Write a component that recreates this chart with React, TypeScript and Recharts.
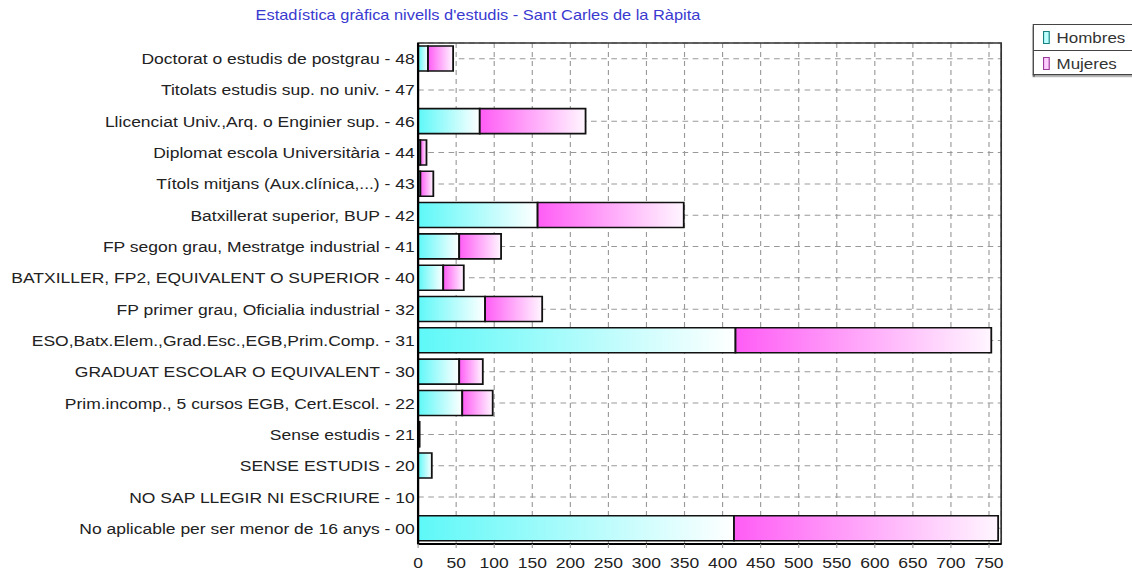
import React from "react";
import {
  BarChart,
  Bar,
  XAxis,
  YAxis,
  CartesianGrid,
  ReferenceArea,
} from "recharts";

const categories = [
  "Doctorat o estudis de postgrau - 48",
  "Titolats estudis sup. no univ. - 47",
  "Llicenciat Univ.,Arq. o Enginier sup. - 46",
  "Diplomat escola Universitària - 44",
  "Títols mitjans (Aux.clínica,...) - 43",
  "Batxillerat superior, BUP - 42",
  "FP segon grau, Mestratge industrial - 41",
  "BATXILLER, FP2, EQUIVALENT O SUPERIOR - 40",
  "FP primer grau, Oficialia industrial - 32",
  "ESO,Batx.Elem.,Grad.Esc.,EGB,Prim.Comp. - 31",
  "GRADUAT ESCOLAR O EQUIVALENT - 30",
  "Prim.incomp., 5 cursos EGB, Cert.Escol. - 22",
  "Sense estudis - 21",
  "SENSE ESTUDIS - 20",
  "NO SAP LLEGIR NI ESCRIURE - 10",
  "No aplicable per ser menor de 16 anys - 00",
];

const hombres = [13, 0, 81, 3, 3, 157, 54, 33, 88, 417, 54, 58, 1, 18, 0, 415];
const mujeres = [33, 0, 139, 8, 17, 192, 55, 27, 75, 336, 31, 40, 1, 0, 0, 347];

const xTicks = [0, 50, 100, 150, 200, 250, 300, 350, 400, 450, 500, 550, 600, 650, 700, 750];
const xMax = 766;

const title = "Estadística gràfica nivells d'estudis - Sant Carles de la Ràpita";

const data = categories.map((name, i) => ({
  name,
  hombres: hombres[i],
  mujeres: mujeres[i],
}));

const font = "'Liberation Sans', Arial, sans-serif";
// the source image is stretched sideways, so the whole chart is too
const stretch = 1.13;

function LegendBox() {
  const row = (label: string, fill: string, edge: string, last: boolean) => (
    <div
      style={{
        height: 25,
        display: "flex",
        alignItems: "center",
        borderBottom: last ? "none" : "1px solid #444",
      }}
    >
      <span
        style={{
          display: "inline-block",
          width: 4,
          height: 11,
          marginLeft: 8,
          marginRight: 6,
          background: fill,
          border: `1px solid ${edge}`,
        }}
      />
      <span style={{ fontSize: 15, color: "#333" }}>{label}</span>
    </div>
  );
  return (
    <div
      style={{
        position: "absolute",
        left: 914,
        top: 24,
        width: 88,
        height: 51,
        fontFamily: font,
        border: "1px solid #444",
        borderRight: "none",
        boxShadow: "0 2px 1px #666",
        background: "#fff",
        boxSizing: "border-box",
      }}
    >
      {row("Hombres", "#bff", "#1b8080", false)}
      {row("Mujeres", "#fcf", "#9a3a9a", true)}
    </div>
  );
}

export default function App() {
  return (
    <div
      style={{
        position: "absolute",
        left: 0,
        top: 0,
        width: 1002,
        height: 573,
        transform: `scaleX(${stretch})`,
        transformOrigin: "0 0",
        background: "#fff",
        overflow: "hidden",
      }}
    >
      <div
        style={{
          position: "absolute",
          left: 0,
          width: 846,
          top: 7,
          textAlign: "center",
          fontFamily: font,
          fontSize: 14.5,
          color: "#3a3ad0",
        }}
      >
        {title}
      </div>
      <BarChart
        width={1002}
        height={573}
        data={data}
        layout="vertical"
        margin={{ top: 43, right: 116, bottom: 0, left: 0 }}
        barCategoryGap={3}
      >
        <defs>
          <linearGradient id="gradH" x1="0" y1="0" x2="1" y2="0">
            <stop offset="0%" stopColor="#5ef8f8" />
            <stop offset="100%" stopColor="#ffffff" />
          </linearGradient>
          <linearGradient id="gradM" x1="0" y1="0" x2="1" y2="0">
            <stop offset="0%" stopColor="#ff5cf5" />
            <stop offset="100%" stopColor="#fff6ff" />
          </linearGradient>
        </defs>
        <ReferenceArea
          x1={0}
          x2={xMax}
          fill="#fff"
          fillOpacity={0}
          stroke="#333"
          strokeWidth={1.5}
          ifOverflow="extendDomain"
        />
        <CartesianGrid stroke="#999" strokeDasharray="5 4" />
        <XAxis
          type="number"
          domain={[0, xMax]}
          ticks={xTicks}
          height={29}
          tickSize={4}
          tickMargin={9}
          axisLine={{ stroke: "#000", strokeWidth: 2 }}
          tickLine={{ stroke: "#999" }}
          tick={{ fill: "#222", fontSize: 15.5, fontFamily: font }}
          interval={0}
        />
        <YAxis
          type="category"
          dataKey="name"
          width={370}
          tickSize={0}
          tickMargin={3}
          interval={0}
          axisLine={{ stroke: "#000", strokeWidth: 2 }}
          tick={{ fill: "#222", fontSize: 15.5, fontFamily: font }}
        />
        <Bar
          dataKey="hombres"
          stackId="a"
          fill="url(#gradH)"
          stroke="#111"
          strokeWidth={1.6}
          isAnimationActive={false}
        />
        <Bar
          dataKey="mujeres"
          stackId="a"
          fill="url(#gradM)"
          stroke="#111"
          strokeWidth={1.6}
          isAnimationActive={false}
        />
      </BarChart>
      <LegendBox />
    </div>
  );
}
